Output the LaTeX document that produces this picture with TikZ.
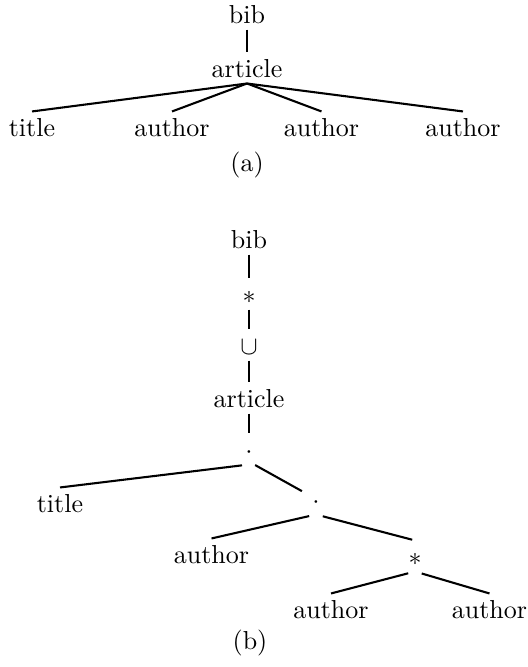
\documentclass[tikz,border=0pt]{standalone}
\begin{document}
\begin{tikzpicture}[x=0.3846pt, y=-0.3846pt,
  lbl/.style={inner xsep=0pt, inner ysep=2.3pt, text height=6.94pt, text depth=0pt, anchor=base},
  edge/.style={line width=0.8pt},
  fromgap/.style={shorten <=2.7pt}]
\useasboundingbox (0,0) rectangle (527,667);

% (a) the document tree
\node[lbl] (abib) at (247,23) {bib};
\node[lbl] (aart) at (247,77) {article};
\node[lbl] (atitle) at (32,136) {title};
\node[lbl] (aauth1) at (172,136) {author};
\node[lbl] (aauth2) at (321.5,136) {author};
\node[lbl] (aauth3) at (463,136) {author};
\node[anchor=base, inner sep=0pt] (capa) at (247,171) {(a)};

\draw[edge] (abib.south) -- (aart.north);
\foreach \c in {atitle,aauth1,aauth2,aauth3}
  \draw[edge] (aart.south) -- (\c.north);

% (b) the type tree
\node[lbl] (bbib) at (249,248) {bib};
\node[lbl] (bstar) at (249,303) {$*$};
\node[lbl] (bcup) at (249,354) {$\cup$};
\node[lbl] (bart) at (249,407) {article};
\node[lbl] (bdot) at (249,458) {$\cdot$};
\node[lbl] (btitle) at (60,512) {title};
\node[lbl] (bdotb) at (316,508) {$\cdot$};
\node[lbl] (bauth) at (211.5,563) {author};
\node[lbl] (bstarb) at (415,565) {$*$};
\node[lbl] (bauthl) at (331,618) {author};
\node[lbl] (bauthr) at (489.5,618) {author};
\node[anchor=base, inner sep=0pt] (capb) at (250,649) {(b)};

\draw[edge] (bbib.south) -- (bstar.north);
\draw[edge] (bstar.south) -- (bcup.north);
\draw[edge] (bcup.south) -- (bart.north);
\draw[edge] (bart.south) -- (bdot.north);
\draw[edge, fromgap] (bdot.south) -- (btitle.north);
\draw[edge, fromgap, shorten >=6.2pt] ([yshift=1.1pt]bdot.south) -- (bdotb.center);
\draw[edge, fromgap] (bdotb.south) -- (bauth.north);
\draw[edge, fromgap, shorten >=1.1pt] (bdotb.south) -- (bstarb.north);
\draw[edge, fromgap] (bstarb.south) -- (bauthl.north);
\draw[edge, fromgap] (bstarb.south) -- (bauthr.north);
\end{tikzpicture}
\end{document}
